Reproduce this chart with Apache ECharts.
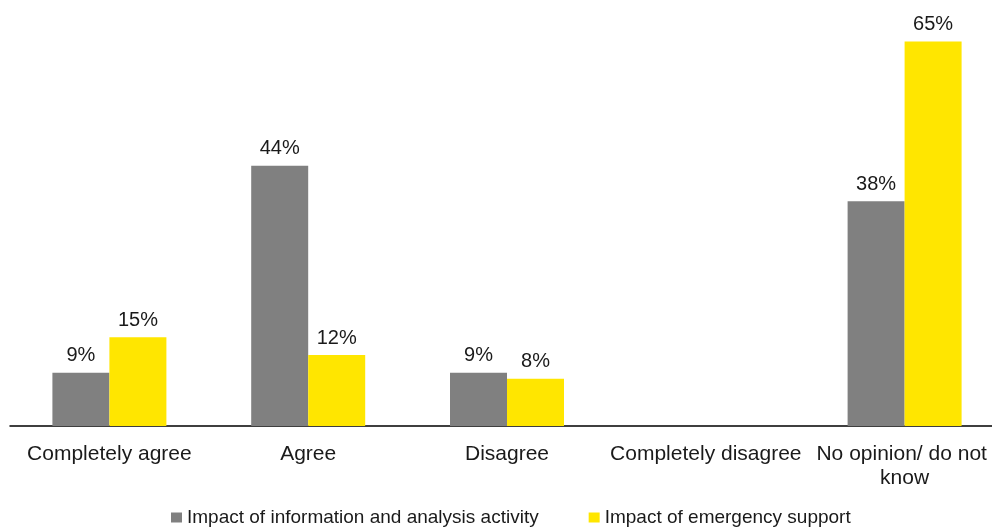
<!DOCTYPE html>
<html>
<head>
<meta charset="utf-8">
<script src="https://cdn.jsdelivr.net/npm/echarts@6/dist/echarts.min.js"></script>
<style>
  html, body { margin: 0; padding: 0; background: #fff; }
  #main { width: 992px; height: 530px; }
</style>
</head>
<body>
<div id="main"></div>
<script>
var categories = ['Completely agree', 'Agree', 'Disagree', 'Completely disagree', 'No opinion/ do not know'];
var infoAnalysis = [9, 44, 9, null, 38];
var emergencySupport = [15, 12, 8, null, 65];
var seriesNames = ['Impact of information and analysis activity', 'Impact of emergency support'];

var myChart = echarts.init(document.getElementById('main'));

var labelStyle = {
    show: true,
    position: 'top',
    distance: 7,
    formatter: '{c}%',
    color: '#1a1a1a',
    fontSize: 20,
    fontFamily: 'Liberation Sans, Arial, sans-serif'
};

var option = {
    animation: false,
    backgroundColor: '#ffffff',
    grid: {
        left: 10,
        right: -12,
        top: 12,
        bottom: 104,
        outerBoundsMode: 'none'
    },
    legend: {
        left: 166,
        top: 503,
        icon: 'rect',
        itemWidth: 11,
        itemHeight: 10,
        itemGap: 50,
        textStyle: {
            color: '#1a1a1a',
            fontSize: 19,
            fontFamily: 'Liberation Sans, Arial, sans-serif'
        },
        data: seriesNames
    },
    xAxis: {
        type: 'category',
        data: categories,
        axisLine: { lineStyle: { color: '#000', width: 1.5 } },
        axisTick: { show: false },
        axisLabel: {
            interval: 0,
            margin: 16,
            color: '#1a1a1a',
            fontSize: 21,
            lineHeight: 24,
            width: 196,
            overflow: 'break',
            fontFamily: 'Liberation Sans, Arial, sans-serif'
        }
    },
    yAxis: {
        type: 'value',
        min: 0,
        max: 70,
        show: false,
        splitLine: { show: false }
    },
    series: [{
        name: seriesNames[0],
        type: 'bar',
        barWidth: 57,
        barGap: '0%',
        itemStyle: { color: '#808080' },
        label: labelStyle,
        data: infoAnalysis
    }, {
        name: seriesNames[1],
        type: 'bar',
        barWidth: 57,
        barGap: '0%',
        itemStyle: { color: '#ffe600' },
        label: labelStyle,
        data: emergencySupport
    }]
};

myChart.setOption(option);
</script>
</body>
</html>
